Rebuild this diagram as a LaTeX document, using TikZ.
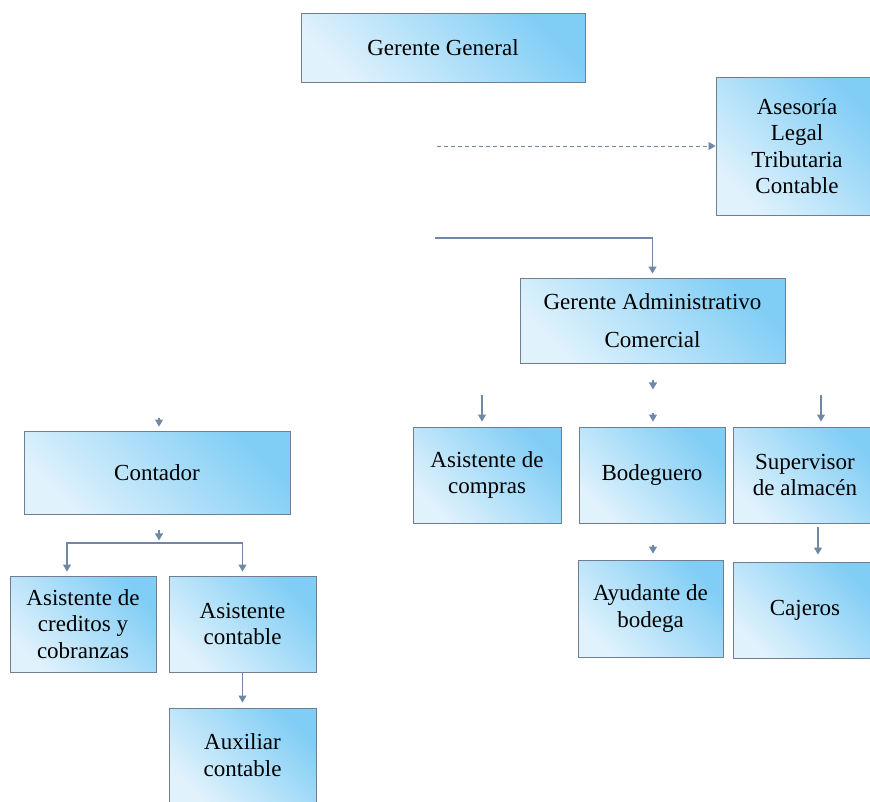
\documentclass[tikz,border=0pt]{standalone}
\usepackage{fontspec}
\setmainfont{Liberation Serif}
\usetikzlibrary{arrows.meta}

\definecolor{cielo}{RGB}{128,205,245}
\definecolor{celeste}{RGB}{224,242,252}
\definecolor{borde}{RGB}{112,126,144}
\definecolor{grisazul}{RGB}{112,136,166}

\begin{document}
\begin{tikzpicture}[x=1pt,y=-1pt,
    caja/.style={draw=borde,line width=.9pt,top color=cielo,bottom color=celeste,
      shading angle=-45,align=center,inner sep=2pt,font=\fontsize{23}{26.5}\selectfont},
    flecha/.style={draw=grisazul,line width=1.1pt,-{Triangle[width=8pt,length=7pt]}},
    trazos/.style={flecha,line width=.8pt,dash pattern=on 4pt off 3pt}]

      \path[use as bounding box,clip] (0,0) rectangle (870,801);

      \begin{scope}[every node/.style={caja}]
        \node[minimum width=284,minimum height=69] (gg)   at (443,47.5)  {Gerente General};
        \node[minimum width=162,minimum height=138] (ases) at (797,146)   {Asesoría\\Legal\\Tributaria\\Contable};
        \node[minimum width=265,minimum height=85] (gadm) at (652.5,320.5) {Gerente Administrativo\\[11pt]Comercial};
        \node[minimum width=266,minimum height=83] (cont) at (157,472.5) {Contador};
        \node[minimum width=146,minimum height=96] (acred) at (83,624)   {Asistente de\\creditos y\\cobranzas};
        \node[minimum width=147,minimum height=96] (acont) at (242.5,624) {Asistente\\contable};
        \node[minimum width=147,minimum height=94] (aux)  at (242.5,755) {Auxiliar\\contable};
        \node[minimum width=148,minimum height=96] (acomp) at (487,475)  {Asistente de\\compras};
        \node[minimum width=146,minimum height=96] (bod)  at (652,475)   {Bodeguero};
        \node[minimum width=144,minimum height=96] (sup)  at (805,475)   {Supervisor\\de almacén};
        \node[minimum width=145,minimum height=97] (ayud) at (650.5,608.5) {Ayudante de\\bodega};
        \node[minimum width=144,minimum height=96] (caj)  at (805,610)   {Cajeros};
      \end{scope}

      \coordinate (d0) at (437,146);
      \coordinate (s0) at (435,238);
      \coordinate (jc) at (159,543);

      \draw[trazos] (d0) -- (ases.west);
      \draw[flecha] (s0) -| ([yshift=4pt]gadm.north);

      % puntas sueltas
      \draw[flecha] ([xshift=.5pt,yshift=-17pt]gadm.south) -- ([xshift=.5pt,yshift=-26pt]gadm.south);
      \draw[flecha] ([xshift=1pt,yshift=14pt]bod.north) -- ([xshift=1pt,yshift=5pt]bod.north);
      \draw[flecha] ([xshift=2.5pt,yshift=15pt]ayud.north) -- ([xshift=2.5pt,yshift=6pt]ayud.north);
      \draw[flecha] ([xshift=2pt,yshift=13pt]cont.north) -- ([xshift=2pt,yshift=4pt]cont.north);
      \draw[flecha] ([xshift=2pt,yshift=-16pt]cont.south) -- ([xshift=2pt,yshift=-26pt]cont.south);

      \draw[flecha] ([xshift=-5pt,yshift=32pt]acomp.north) -- ([xshift=-5pt,yshift=5pt]acomp.north);
      \draw[flecha] ([xshift=16pt,yshift=32pt]sup.north) -- ([xshift=16pt,yshift=5pt]sup.north);
      \draw[flecha] ([xshift=13pt,yshift=-4pt]sup.south) -- ([xshift=13pt,yshift=7pt]caj.north);

      \draw[flecha] (jc) -| ([xshift=-16pt,yshift=4pt]acred.north);
      \draw[flecha] (jc) -| ([yshift=4pt]acont.north);
      \draw[flecha] (acont.south) -- ([yshift=5pt]aux.north);

    \end{tikzpicture}
\end{document}
